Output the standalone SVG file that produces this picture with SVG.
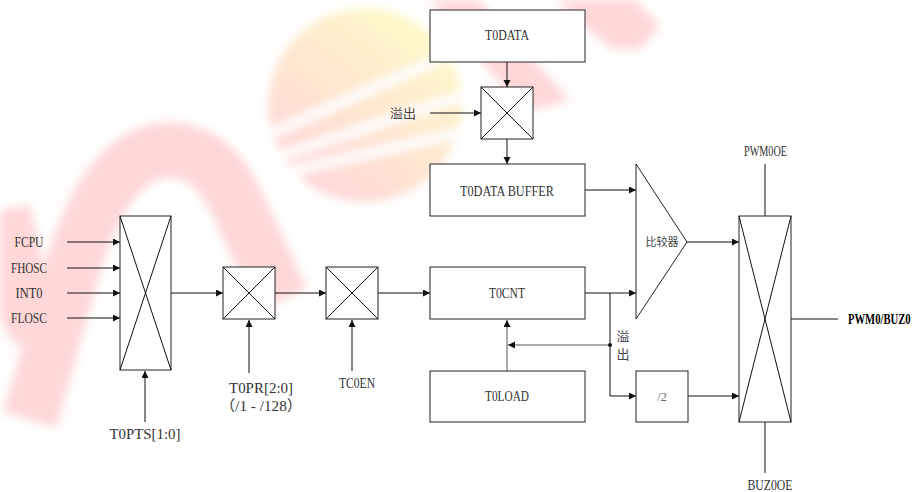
<svg xmlns="http://www.w3.org/2000/svg" width="915" height="492" viewBox="0 0 915 492">
<defs>
<style>
.ln{stroke:#111;stroke-width:1;fill:none}
.lg{stroke:#555;stroke-width:1;fill:none}
.bx{stroke:#222;stroke-width:1;fill:#fff}
.t{font-family:"Liberation Serif","Noto Sans CJK SC",serif;font-size:15px;fill:#333;text-anchor:middle}
.c{font-family:"Noto Sans CJK SC",serif;font-size:13px;fill:#444;text-anchor:middle}
.b{font-family:"Liberation Serif",serif;font-size:14px;font-weight:bold;fill:#000}
</style>
<marker id="ah" markerUnits="userSpaceOnUse" markerWidth="8" markerHeight="8" refX="7" refY="3.5" orient="auto">
<path d="M0,0 L7,3.5 L0,7 z" fill="#111"/>
</marker>
<filter id="blur" x="-20%" y="-20%" width="140%" height="140%"><feGaussianBlur stdDeviation="5"/></filter>
<linearGradient id="sph" x1="0.8" y1="0.1" x2="0.2" y2="0.9">
<stop offset="0" stop-color="#fff080"/>
<stop offset="0.5" stop-color="#ffc890"/>
<stop offset="1" stop-color="#ffa0a0"/>
</linearGradient>
<clipPath id="sc"><circle cx="365" cy="105" r="97"/></clipPath>
</defs>

<g id="watermark" filter="url(#blur)">
<g opacity="0.3" fill="#ff7a7a">
<path d="M30 420 L75 260 Q110 150 170 150 Q215 150 240 210 L282 300" stroke="#ff7a7a" stroke-width="55" fill="none"/>
<polygon points="0,210 30,205 58,330 15,345 0,320"/>
<polygon points="430,0 478,0 570,100 525,112"/>
<polygon points="555,0 635,0 660,25 640,50 610,48"/>
</g>
<g clip-path="url(#sc)" opacity="0.42">
<circle cx="365" cy="105" r="97" fill="url(#sph)"/>
<line x1="250" y1="143" x2="470" y2="45" stroke="#fff" stroke-width="9"/>
<line x1="250" y1="166" x2="480" y2="90" stroke="#fff" stroke-width="9"/>
<line x1="260" y1="178" x2="480" y2="128" stroke="#fff" stroke-width="9"/>
</g>
</g>

<g id="connectors">
<line class="ln" x1="67" y1="242" x2="120" y2="242" marker-end="url(#ah)"/>
<line class="ln" x1="67" y1="268" x2="120" y2="268" marker-end="url(#ah)"/>
<line class="ln" x1="67" y1="293" x2="120" y2="293" marker-end="url(#ah)"/>
<line class="ln" x1="67" y1="318" x2="120" y2="318" marker-end="url(#ah)"/>
<line class="ln" x1="145" y1="422" x2="145" y2="371" marker-end="url(#ah)"/>
<line class="ln" x1="171" y1="293" x2="223" y2="293" marker-end="url(#ah)"/>
<line class="ln" x1="249" y1="373" x2="249" y2="320" marker-end="url(#ah)"/>
<line class="ln" x1="275" y1="293" x2="326" y2="293" marker-end="url(#ah)"/>
<line class="ln" x1="352" y1="371" x2="352" y2="320" marker-end="url(#ah)"/>
<line class="ln" x1="378" y1="293" x2="430" y2="293" marker-end="url(#ah)"/>
<line class="ln" x1="507" y1="62" x2="507" y2="87" marker-end="url(#ah)"/>
<line class="ln" x1="430" y1="113" x2="481" y2="113" marker-end="url(#ah)"/>
<line class="ln" x1="507" y1="139" x2="507" y2="164" marker-end="url(#ah)"/>
<line class="ln" x1="585" y1="190" x2="636" y2="190" marker-end="url(#ah)"/>
<line class="ln" x1="585" y1="293" x2="636" y2="293" marker-end="url(#ah)"/>
<line class="ln" x1="687" y1="242" x2="739" y2="242" marker-end="url(#ah)"/>
<polyline class="ln" points="610,293 610,396 636,396" marker-end="url(#ah)"/>
<line class="lg" x1="610" y1="345" x2="508" y2="345" marker-end="url(#ah)"/>
<circle cx="610" cy="345" r="2" fill="#111"/>
<line class="lg" x1="507" y1="371" x2="507" y2="320" marker-end="url(#ah)"/>
<line class="ln" x1="688" y1="396" x2="739" y2="396" marker-end="url(#ah)"/>
<line class="ln" x1="765" y1="164" x2="765" y2="216"/>
<line class="ln" x1="765" y1="422" x2="765" y2="473"/>
<line class="ln" x1="791" y1="319" x2="838" y2="319"/>
</g>

<g id="inputs">
<text class="t" x="29" y="247" textLength="29" lengthAdjust="spacingAndGlyphs">FCPU</text>
<text class="t" x="29" y="273" textLength="36" lengthAdjust="spacingAndGlyphs">FHOSC</text>
<text class="t" x="29" y="298" textLength="27" lengthAdjust="spacingAndGlyphs">INT0</text>
<text class="t" x="29" y="323" textLength="36" lengthAdjust="spacingAndGlyphs">FLOSC</text>
</g>

<g id="mux-src">
<rect class="bx" x="120" y="216" width="51" height="154"/>
<path class="ln" d="M120 216 L171 370 M171 216 L120 370"/>
<text class="t" x="145" y="439" textLength="71" lengthAdjust="spacingAndGlyphs">T0PTS[1:0]</text>
</g>

<g id="mux-prescaler">
<rect class="bx" x="223" y="267" width="52" height="52"/>
<path class="ln" d="M223 267 L275 319 M275 267 L223 319"/>
<text class="t" x="261" y="393" textLength="64" lengthAdjust="spacingAndGlyphs">T0PR[2:0]</text>
<text class="t" x="261" y="411" textLength="82" lengthAdjust="spacingAndGlyphs">（/1 - /128）</text>
</g>

<g id="mux-enable">
<rect class="bx" x="326" y="267" width="52" height="52"/>
<path class="ln" d="M326 267 L378 319 M378 267 L326 319"/>
<text class="t" x="357" y="388" textLength="36" lengthAdjust="spacingAndGlyphs">TC0EN</text>
</g>

<g id="t0data">
<rect class="bx" x="430" y="10" width="155" height="52"/>
<text class="t" x="507" y="40" textLength="44" lengthAdjust="spacingAndGlyphs">T0DATA</text>
</g>

<g id="mux-data">
<rect class="bx" x="481" y="87" width="52" height="52"/>
<path class="ln" d="M481 87 L533 139 M533 87 L481 139"/>
<text class="c" x="403" y="117.5">溢出</text>
</g>

<g id="t0data-buffer">
<rect class="bx" x="430" y="164" width="155" height="52"/>
<text class="t" x="507" y="195.5" textLength="94" lengthAdjust="spacingAndGlyphs">T0DATA BUFFER</text>
</g>

<g id="t0cnt">
<rect class="bx" x="430" y="267" width="155" height="52"/>
<text class="t" x="507" y="298" textLength="36" lengthAdjust="spacingAndGlyphs">T0CNT</text>
</g>

<g id="t0load">
<rect class="bx" x="430" y="371" width="155" height="51"/>
<text class="t" x="507" y="401" textLength="44" lengthAdjust="spacingAndGlyphs">T0LOAD</text>
</g>

<g id="comparator">
<polygon class="bx" points="636,164 687,242 636,319"/>
<text class="c" x="662" y="245.5" style="font-size:11px">比较器</text>
</g>

<g id="overflow-label">
<text class="c" x="623" y="341">溢</text>
<text class="c" x="623" y="358.5">出</text>
</g>

<g id="div2">
<rect class="bx" x="636" y="371" width="52" height="51"/>
<text class="t" x="662" y="400.5" style="font-size:12px;fill:#666">/2</text>
</g>

<g id="mux-out">
<rect class="bx" x="739" y="216" width="52" height="206"/>
<path class="ln" d="M739 216 L791 422 M791 216 L739 422"/>
<text class="t" x="765.5" y="156" textLength="43" lengthAdjust="spacingAndGlyphs">PWM0OE</text>
<text class="t" x="770" y="490" textLength="45" lengthAdjust="spacingAndGlyphs">BUZ0OE</text>
</g>

<g id="output">
<text class="b" transform="translate(848,324) scale(0.76,1)" x="0" y="0">PWM0/BUZ0</text>
</g>
</svg>
